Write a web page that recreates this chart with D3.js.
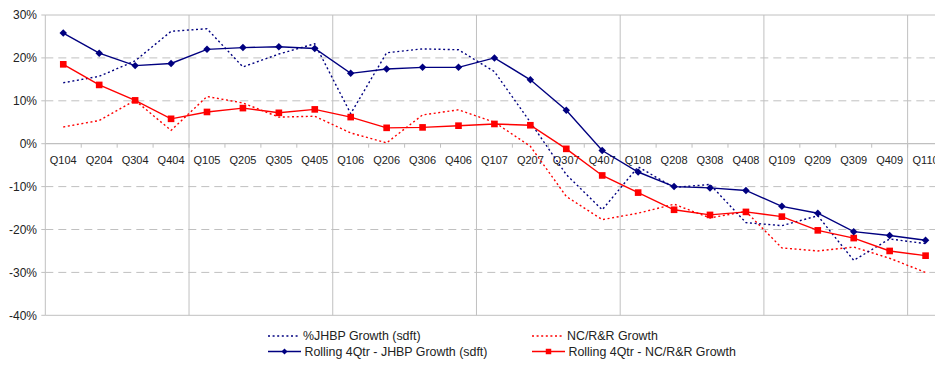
<!DOCTYPE html>
<html>
<head>
<meta charset="utf-8">
<script src="https://cdn.jsdelivr.net/npm/d3@7"></script>
<style>
  html, body { margin: 0; padding: 0; background: #fff; }
  svg { display: block; font-family: "Liberation Sans", Arial, sans-serif; }
</style>
</head>
<body>
<svg id="chart" width="935" height="367"></svg>
<script>
// Quarter labels along the category axis
const quarters = [
  "Q104","Q204","Q304","Q404",
  "Q105","Q205","Q305","Q405",
  "Q106","Q206","Q306","Q406",
  "Q107","Q207","Q307","Q407",
  "Q108","Q208","Q308","Q408",
  "Q109","Q209","Q309","Q409",
  "Q110"
];

// Quarterly growth, % year over year
const jhbpGrowth = [
  14.2, 15.7, 19.3, 26.2,
  26.8, 17.9, 20.9, 23.3,
  7.0, 21.2, 22.1, 21.9,
  16.8, 5.0, -7.2, -15.4,
  -5.4, -10.2, -9.5, -18.4,
  -19.1, -16.8, -27.2, -22.2,
  -23.3
];
const ncrrGrowth = [
  3.9, 5.4, 10.1, 3.1,
  11.0, 9.5, 6.2, 6.4,
  2.5, 0.2, 6.7, 7.9,
  5.0, -0.6, -12.3, -17.7,
  -16.2, -14.1, -17.3, -15.8,
  -24.3, -25.0, -24.1, -26.7,
  -30.0
];

// Rolling four-quarter growth, %
const jhbpRolling = [
  25.8, 21.1, 18.2, 18.7,
  22.0, 22.4, 22.6, 22.2,
  16.4, 17.4, 17.8, 17.8,
  20.0, 14.9, 7.8, -1.6,
  -6.6, -10.0, -10.3, -10.9,
  -14.6, -16.2, -20.5, -21.4,
  -22.5
];
const ncrrRolling = [
  18.5, 13.7, 10.1, 5.8,
  7.4, 8.3, 7.2, 8.0,
  6.2, 3.7, 3.8, 4.2,
  4.6, 4.3, -1.2, -7.4,
  -11.4, -15.4, -16.6, -15.9,
  -17.0, -20.2, -22.0, -25.0,
  -26.1
];

const yTicks = [30, 20, 10, 0, -10, -20, -30, -40];

const legendItems = [
  { label: "%JHBP Growth (sdft)", color: "#000080", dotted: true, marker: null },
  { label: "NC/R&R Growth", color: "#FF0000", dotted: true, marker: null },
  { label: "Rolling 4Qtr - JHBP Growth (sdft)", color: "#000080", dotted: false, marker: "diamond" },
  { label: "Rolling 4Qtr - NC/R&R Growth", color: "#FF0000", dotted: false, marker: "square" }
];

const svg = d3.select("#chart");

const plotLeft = 45.3;
const bandW = 35.93;
const plotTop = 15;
const plotBottom = 315.3;
const gridColor = "#c0c0c0";

const x = d3.scaleBand()
  .domain(quarters)
  .range([plotLeft, plotLeft + bandW * quarters.length])
  .paddingInner(0).paddingOuter(0);

const y = d3.scaleLinear().domain([-40, 30]).range([plotBottom, plotTop]);

const cx = q => x(q) + x.bandwidth() / 2;
const plotRight = plotLeft + bandW * quarters.length;

// Horizontal gridlines
const grid = svg.append("g");
grid.selectAll("line.h")
  .data(yTicks.filter(v => v !== 0))
  .join("line")
  .attr("x1", plotLeft).attr("x2", plotRight)
  .attr("y1", d => y(d)).attr("y2", d => y(d))
  .attr("stroke", gridColor)
  .attr("stroke-width", 1)
  .attr("stroke-dasharray", d => (d === 30 || d === -40) ? null : "8,5");

// Vertical gridlines at each year boundary
const yearStarts = quarters.map((q, i) => i).filter(i => i > 0 && i % 4 === 0);
grid.selectAll("line.v")
  .data(yearStarts)
  .join("line")
  .attr("x1", i => x(quarters[i])).attr("x2", i => x(quarters[i]))
  .attr("y1", plotTop).attr("y2", plotBottom)
  .attr("stroke", gridColor)
  .attr("stroke-width", 1);

// Value axis
const yAxis = svg.append("g");
yAxis.append("line")
  .attr("x1", plotLeft).attr("x2", plotLeft)
  .attr("y1", plotTop).attr("y2", plotBottom)
  .attr("stroke", gridColor);
yAxis.selectAll("line.tick")
  .data(yTicks)
  .join("line")
  .attr("x1", plotLeft - 4).attr("x2", plotLeft)
  .attr("y1", d => y(d)).attr("y2", d => y(d))
  .attr("stroke", gridColor);
yAxis.selectAll("text")
  .data(yTicks)
  .join("text")
  .attr("x", 37)
  .attr("y", d => y(d) + 4.2)
  .attr("text-anchor", "end")
  .attr("font-size", 12)
  .attr("fill", "#222")
  .text(d => d + "%");

// Category axis crossing at 0%
const xAxis = svg.append("g");
xAxis.append("line")
  .attr("x1", plotLeft).attr("x2", plotRight)
  .attr("y1", y(0)).attr("y2", y(0))
  .attr("stroke", gridColor)
  .attr("stroke-width", 1.3);
xAxis.selectAll("line.tick")
  .data(quarters.slice(1))
  .join("line")
  .attr("x1", d => x(d)).attr("x2", d => x(d))
  .attr("y1", y(0)).attr("y2", y(0) + 4)
  .attr("stroke", gridColor);
xAxis.selectAll("text")
  .data(quarters)
  .join("text")
  .attr("x", d => cx(d))
  .attr("y", y(0) + 20)
  .attr("text-anchor", "middle")
  .attr("font-size", 11)
  .attr("fill", "#222")
  .text(d => d);

// Series lines
const line = d3.line()
  .x((d, i) => cx(quarters[i]))
  .y(d => y(d));

const series = svg.append("g");
series.append("path")
  .datum(ncrrGrowth)
  .attr("d", line)
  .attr("fill", "none")
  .attr("stroke", "#FF0000")
  .attr("stroke-width", 1.4)
  .attr("stroke-dasharray", "2,2.6");
series.append("path")
  .datum(jhbpGrowth)
  .attr("d", line)
  .attr("fill", "none")
  .attr("stroke", "#000080")
  .attr("stroke-width", 1.4)
  .attr("stroke-dasharray", "2,2.6");
series.append("path")
  .datum(ncrrRolling)
  .attr("d", line)
  .attr("fill", "none")
  .attr("stroke", "#FF0000")
  .attr("stroke-width", 1.4);
series.append("path")
  .datum(jhbpRolling)
  .attr("d", line)
  .attr("fill", "none")
  .attr("stroke", "#000080")
  .attr("stroke-width", 1.4);

// Markers
const diamond = d3.symbol().type(d3.symbolSquare).size(28);
const square = d3.symbol().type(d3.symbolSquare).size(44);

series.selectAll("path.sq")
  .data(ncrrRolling)
  .join("path")
  .attr("class", "sq")
  .attr("d", square)
  .attr("transform", (d, i) => `translate(${cx(quarters[i])},${y(d)})`)
  .attr("fill", "#FF0000");

series.selectAll("path.dm")
  .data(jhbpRolling)
  .join("path")
  .attr("class", "dm")
  .attr("d", diamond)
  .attr("transform", (d, i) => `translate(${cx(quarters[i])},${y(d)}) rotate(45)`)
  .attr("fill", "#000080");

// Legend
const legendPos = [
  { lx: 268, ly: 336 },
  { lx: 532, ly: 336 },
  { lx: 268, ly: 351.5 },
  { lx: 532, ly: 351.5 }
];
const legend = svg.append("g");
legendItems.forEach((item, i) => {
  const p = legendPos[i];
  const g = legend.append("g").attr("transform", `translate(${p.lx},${p.ly})`);
  g.append("line")
    .attr("x1", 0).attr("x2", item.dotted ? 32 : 33)
    .attr("y1", 0).attr("y2", 0)
    .attr("stroke", item.color)
    .attr("stroke-width", 1.4)
    .attr("stroke-dasharray", item.dotted ? "2,2.6" : null);
  if (item.marker === "diamond") {
    g.append("path").attr("d", d3.symbol().type(d3.symbolSquare).size(18))
      .attr("transform", "translate(16.5,0) rotate(45)")
      .attr("fill", item.color);
  } else if (item.marker === "square") {
    g.append("path").attr("d", d3.symbol().type(d3.symbolSquare).size(30))
      .attr("transform", "translate(16.5,0)")
      .attr("fill", item.color);
  }
  g.append("text")
    .attr("x", item.dotted ? 35 : 36.5)
    .attr("y", 4.4)
    .attr("font-size", 12.4)
    .attr("fill", "#222")
    .text(item.label);
});
</script>
</body>
</html>
